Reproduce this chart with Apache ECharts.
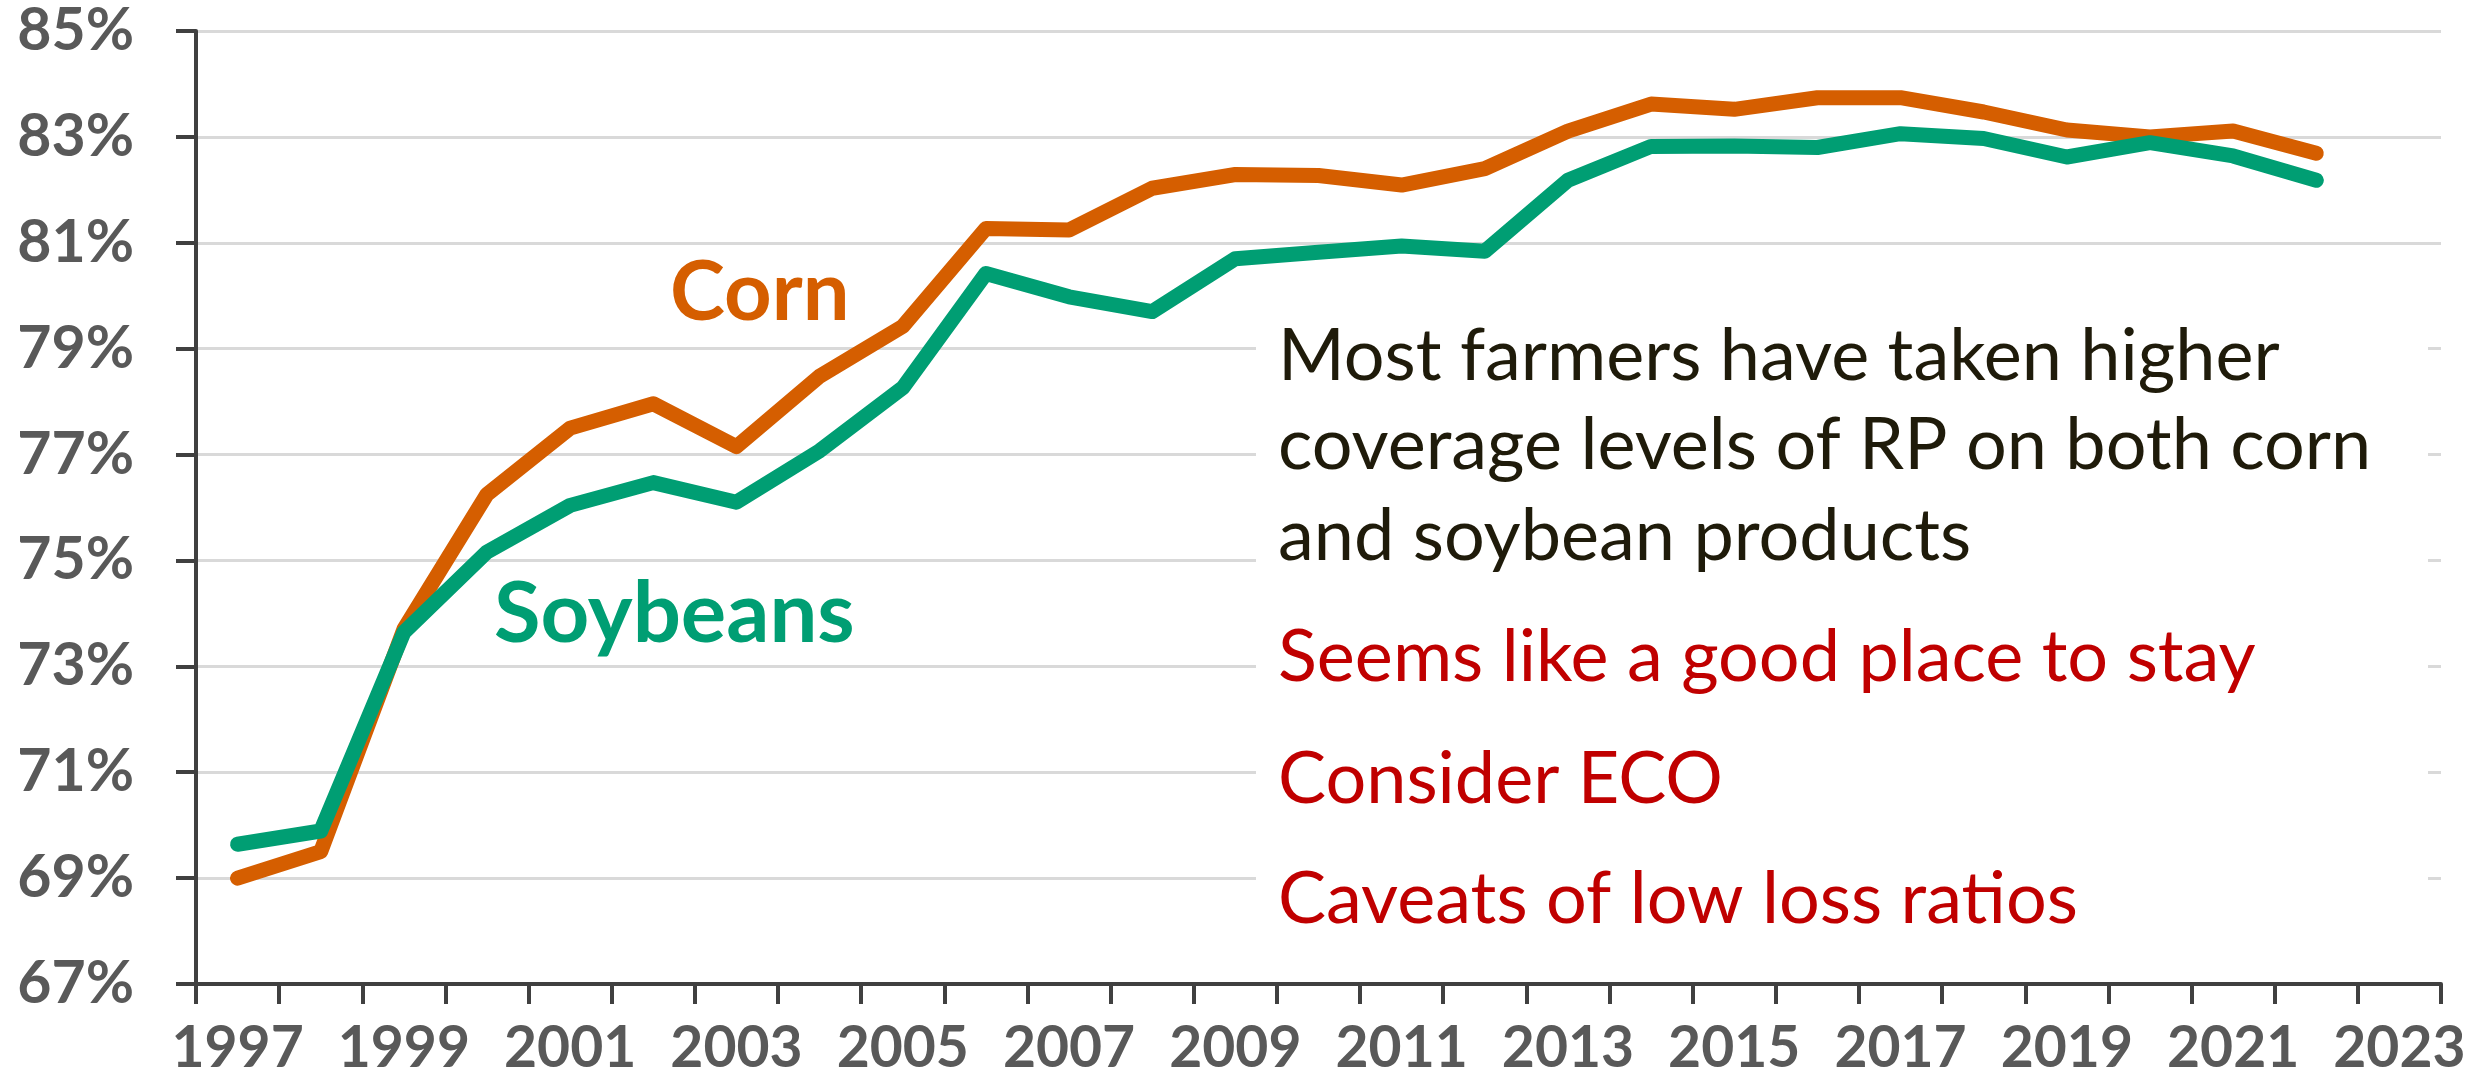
<!DOCTYPE html>
<html>
<head>
<meta charset="utf-8">
<script src="https://cdn.jsdelivr.net/npm/echarts@6/dist/echarts.min.js"></script>
<style>
html,body{margin:0;padding:0;background:#fff;}
#chart{width:2483px;height:1077px;}
</style>
</head>
<body>
<div id="chart"></div>
<script>
const years = ['1997','1998','1999','2000','2001','2002','2003','2004','2005','2006','2007','2008','2009','2010','2011','2012','2013','2014','2015','2016','2017','2018','2019','2020','2021','2022','2023'];
const corn = [69.0,69.5,73.7,76.25,77.5,77.96,77.15,78.48,79.42,81.27,81.24,82.03,82.29,82.27,82.09,82.4,83.11,83.62,83.52,83.74,83.74,83.47,83.13,83.0,83.11,82.69];
const soybeans = [69.64,69.89,73.64,75.16,76.04,76.47,76.1,77.07,78.26,80.42,79.98,79.7,80.7,80.82,80.94,80.84,82.18,82.82,82.83,82.8,83.06,82.97,82.62,82.89,82.64,82.18];
const yTicks = {min:67, max:85, interval:2};
const noteBlack = ['Most farmers have taken higher','coverage levels of RP on both corn','and soybean products'];
const noteRed = ['Seems like a good place to stay','Consider ECO','Caveats of low loss ratios'];

const FONT = 'Lato, "Noto Sans", sans-serif';
const chart = echarts.init(document.getElementById('chart'), null, {renderer:'canvas'});

const noteEls = [];
const blackBase = [381,470,561];
const redBase = [682,804,924];
const NFS = 72;
noteBlack.forEach((t,i)=>noteEls.push({type:'text',z:10,style:{text:t,x:1278,y:blackBase[i]-NFS*0.34,fill:'#1f1b0a',font:'400 '+NFS+'px '+FONT,textVerticalAlign:'middle'}}));
noteRed.forEach((t,i)=>noteEls.push({type:'text',z:10,style:{text:t,x:1278,y:redBase[i]-NFS*0.34,fill:'#c00000',font:'400 '+NFS+'px '+FONT,textVerticalAlign:'middle'}}));

chart.setOption({
  animation:false,
  backgroundColor:'#ffffff',
  grid:{left:196,right:42,top:31,bottom:92,containLabel:false},
  xAxis:{
    type:'category',data:years,boundaryGap:true,
    axisLine:{lineStyle:{color:'#404040',width:4}},
    axisTick:{show:true,interval:0,length:20,lineStyle:{color:'#404040',width:4}},
    axisLabel:{interval:1,color:'#595959',fontFamily:FONT,fontWeight:'bold',fontSize:57,margin:36,lineHeight:57},
    splitLine:{show:false}
  },
  yAxis:{
    type:'value',min:yTicks.min,max:yTicks.max,interval:yTicks.interval,
    axisLine:{show:true,lineStyle:{color:'#404040',width:4}},
    axisTick:{show:true,length:20,lineStyle:{color:'#404040',width:4}},
    axisLabel:{color:'#595959',fontFamily:FONT,fontWeight:'bold',fontSize:59,margin:62,formatter:v=>v+'%'},
    splitLine:{show:true,lineStyle:{color:'#d9d9d9',width:3}}
  },
  series:[
    {name:'Corn',type:'line',data:corn,symbol:'none',smooth:false,z:3,
     lineStyle:{color:'#d55e00',width:15,cap:'round',join:'round'}},
    {name:'Soybeans',type:'line',data:soybeans,symbol:'none',smooth:false,z:4,
     lineStyle:{color:'#009e73',width:15,cap:'round',join:'round'}}
  ],
  graphic:[
    {type:'rect',z:1,shape:{x:1256,y:300,width:1172,height:640},style:{fill:'#ffffff'}},
    {type:'text',z:10,style:{text:'Corn',x:670,y:321-0.34*83,fill:'#d55e00',font:'bold 83px '+FONT,textVerticalAlign:'middle'}},
    {type:'text',z:10,style:{text:'Soybeans',x:494,y:643-0.34*85,fill:'#009e73',font:'bold 85px '+FONT,textVerticalAlign:'middle'}},
    ...noteEls
  ]
});
</script>
</body>
</html>
